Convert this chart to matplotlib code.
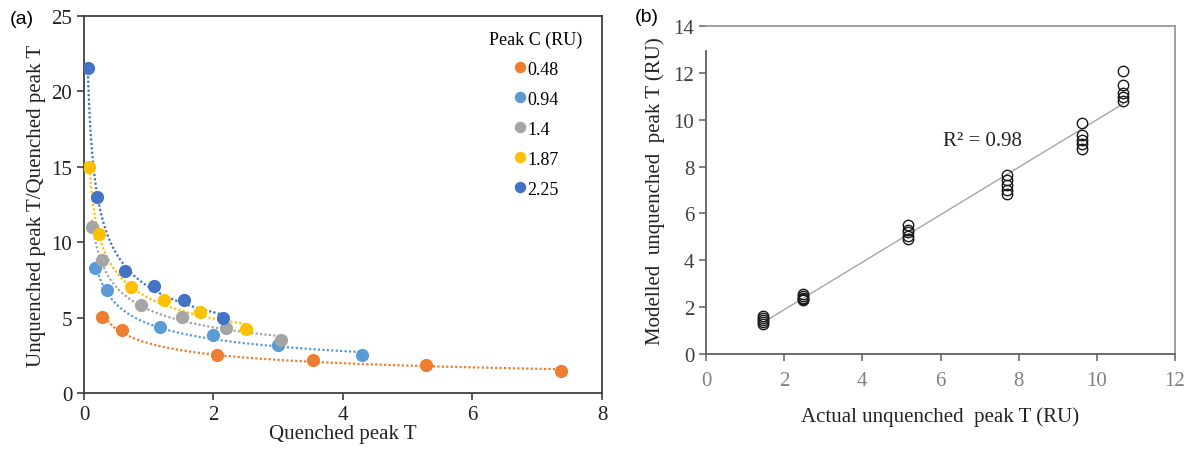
import numpy as np
import matplotlib
matplotlib.use("Agg")
import matplotlib.pyplot as plt

# ---------------- data: panel (a) ----------------
peak_c_labels = ["0.48", "0.94", "1.4", "1.87", "2.25"]
colors = ["#ED7D31", "#5B9BD5", "#A5A5A5", "#FFC000", "#4472C4"]

x_048 = [0.28, 0.59, 2.05, 3.53, 5.28, 7.36]
y_048 = [5.03, 4.19, 2.49, 2.21, 1.83, 1.46]
x_094 = [0.17, 0.36, 1.17, 1.99, 3.00, 4.29]
y_094 = [8.32, 6.82, 4.37, 3.82, 3.16, 2.49]
x_140 = [0.12, 0.28, 0.88, 1.51, 2.19, 3.05]
y_140 = [11.03, 8.83, 5.85, 5.03, 4.32, 3.49]
x_187 = [0.08, 0.23, 0.72, 1.24, 1.79, 2.50]
y_187 = [14.96, 10.53, 7.02, 6.16, 5.34, 4.24]
x_225 = [0.06, 0.20, 0.63, 1.08, 1.55, 2.15]
y_225 = [21.58, 13.02, 8.12, 7.10, 6.18, 4.99]

series_x = [x_048, x_094, x_140, x_187, x_225]
series_y = [y_048, y_094, y_140, y_187, y_225]

# ---------------- data: panel (b) ----------------
actual_T = [1.45] * 5 + [2.49] * 5 + [5.18] * 5 + [7.70] * 5 + [9.61] * 5 + [10.67] * 5
modelled_T = [1.62, 1.52, 1.45, 1.38, 1.27,
              2.55, 2.47, 2.40, 2.36, 2.32,
              5.49, 5.30, 5.20, 5.05, 4.91,
              7.64, 7.42, 7.21, 7.00, 6.82,
              9.86, 9.36, 9.12, 8.95, 8.77,
              12.09, 11.48, 11.13, 10.95, 10.78]
r2_text = "R² = 0.98"

serif = ["Liberation Serif", "DejaVu Serif"]
sans = ["Liberation Sans", "DejaVu Sans"]

fig = plt.figure(figsize=(11.87, 4.52), dpi=100)

# ---------------- panel (a) ----------------
axa = fig.add_axes([84 / 1187, 1 - 394 / 452, (602 - 84) / 1187, (394 - 17) / 452])
for xs, ys, c, lab in zip(series_x, series_y, colors, peak_c_labels):
    xs = np.array(xs); ys = np.array(ys)
    b, loga = np.polyfit(np.log(xs), np.log(ys), 1)
    xf = np.linspace(xs.min(), xs.max(), 300)
    axa.plot(xf, np.exp(loga) * xf ** b, ls=(0, (1, 1)), color=c, lw=1.6, zorder=2)
    axa.plot(xs, ys, "o", color=c, ms=8.5, mec=c, label=lab, zorder=3)

axa.set_xlim(0, 8)
axa.set_ylim(0, 25)
axa.set_xticks([0, 2, 4, 6, 8])
axa.set_yticks([0, 5, 10, 15, 20, 25])
for s in axa.spines.values():
    s.set_color("#404040")
    s.set_linewidth(1.3)
axa.tick_params(direction="out", length=5, width=1.2, color="#404040", labelsize=15,
                labelcolor="#222222")
for t in axa.get_xticklabels() + axa.get_yticklabels():
    t.set_family(serif)
axa.set_xlabel("Quenched peak T", fontsize=15, family=serif, labelpad=0, color="#222222")
axa.set_ylabel("Unquenched peak T/Quenched peak T", fontsize=15, family=serif,
               labelpad=4, color="#222222")
leg = axa.legend(title="Peak C (RU)", loc="upper right", bbox_to_anchor=(0.962, 0.962),
                 frameon=False, prop={"family": serif, "size": 13},
                 title_fontproperties={"family": serif, "size": 13},
                 labelspacing=0.72, handletextpad=0.0, handlelength=0.8,
                 markerscale=0.85, borderaxespad=0.0, borderpad=0.0)
leg._legend_box.align = "center"
fig.text(10 / 1187, 1 - 19 / 452, "(a)", fontsize=14, family=sans, va="center", ha="left")

# ---------------- panel (b) ----------------
axb = fig.add_axes([706 / 1187, 1 - 355 / 452, (1175 - 706) / 1187, (355 - 27) / 452])
xa = np.array(actual_T); ya = np.array(modelled_T)
m, c0 = np.polyfit(xa, ya, 1)
xl = np.linspace(xa.min(), xa.max(), 50)
axb.plot(xl, m * xl + c0, color="#A6A6A6", lw=1.0, zorder=2)
axb.plot(xa, ya, "o", mfc="none", mec="#1a1a1a", ms=7.5, mew=1.0, zorder=3)
axb.set_xlim(0, 12)
axb.set_ylim(0, 14)
axb.set_xticks(range(0, 13, 2))
axb.set_yticks(range(0, 15, 2))
for s in axb.spines.values():
    s.set_color("#9a9a9a")
    s.set_linewidth(1.3)
axb.spines["left"].set_color("#606060")
axb.spines["left"].set_bounds(0, 12.95)
axb.spines["bottom"].set_color("#606060")
axb.tick_params(direction="out", length=5, width=1.1, color="#606060", labelsize=15,
                labelcolor="#404040")
axb.tick_params(axis="x", pad=7, labelcolor="#808080")
for t in axb.get_xticklabels() + axb.get_yticklabels():
    t.set_family(serif)
axb.set_xlabel("Actual unquenched  peak T (RU)", fontsize=15, family=serif, labelpad=12,
               color="#222222")
axb.set_ylabel("Modelled  unquenched  peak T (RU)", fontsize=15, family=serif, labelpad=6,
               color="#222222")
axb.text(6.07, 9.1, r2_text, fontsize=15, family=serif, color="#222222", va="center")
fig.text(635 / 1187, 1 - 18 / 452, "(b)", fontsize=14, family=sans, va="center", ha="left")

fig.savefig("out.png", dpi=100, facecolor="white")
